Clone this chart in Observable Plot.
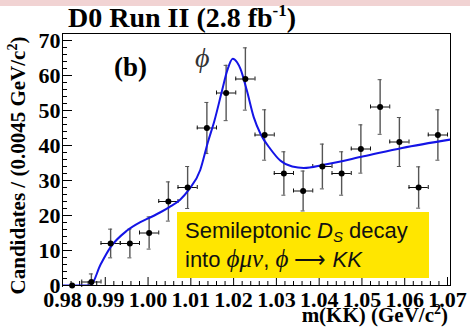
<!DOCTYPE html>
<html><head><meta charset="utf-8">
<script src="https://cdn.jsdelivr.net/npm/d3@7"></script>
<script src="https://cdn.jsdelivr.net/npm/@observablehq/plot@0.6"></script>
<style>
html,body{margin:0;padding:0;}
body{width:470px;height:328px;overflow:hidden;background:linear-gradient(#f1d3d3 0,#f1d3d3 6px,#fff 6px);}
#chart svg{display:block;background:transparent;}
#chart svg g[aria-label="x-axis tick label"],
#chart svg g[aria-label="y-axis tick label"],
#chart svg g[aria-label="x-axis tick label"] text,
#chart svg g[aria-label="y-axis tick label"] text{
  font-family:'Liberation Serif','Times New Roman',serif !important;
  font-weight:bold !important; font-size:22px !important;
}
</style></head><body><div id="chart"></div>
<script>
// bin centres (GeV/c^2), bin width 0.0045
const binCenters = [0.98225,0.98675,0.99125,0.99575,1.00025,1.00475,1.00925,1.01375,1.01825,1.02275,
                    1.02725,1.03175,1.03625,1.04075,1.04525,1.04975,1.05425,1.05875,1.06325,1.06775];
const counts = [0,1,12,12,15,24,28,45,55,59,43,32,27,34,32,39,51,41,28,43];
const errors = [0,2.3,4.1,4.1,4.6,5.6,6,7.3,7.9,8.9,7.2,6.2,5.7,6.4,6.2,6.9,7.8,7,5.9,7.2];
const halfBin = 0.00225;
// fitted curve
const fitX = [0.980,0.9865,0.9889,0.9912,0.9951,0.9982,1.0006,1.0030,1.0050,1.0075,1.0095,1.0122,1.0140,1.0155,
              1.0173,1.0185,1.0198,1.0208,1.0216,1.0231,1.0247,1.0263,1.0286,1.0309,1.0337,1.0364,1.0411,1.0504,1.0594,1.0707];
const fitY = [0,0,6,10.9,15.7,18.1,19.5,21,22.4,24.5,27.3,33,41,47,55.7,61.4,64.8,63.8,61.9,55.7,48.1,43.3,39,35.7,34,33.6,34.5,36.9,39.3,41.7];
const xTicks = [0.98,0.99,1.00,1.01,1.02,1.03,1.04,1.05,1.06,1.07];
const yTicks = [0,10,20,30,40,50,60,70];
const xDomain = [0.98, 1.0707];
const yDomain = [0, 72];

const W = 470, H = 328, mL = 62, mR = 20, mT = 33, mB = 43;
const frameW = W - mL - mR, frameH = H - mT - mB;

const xMinor = d3.range(0, 46).map(i => 0.98 + i * 0.002).filter(v => Math.abs(v * 100 - Math.round(v * 100)) > 1e-6);
const yMinor = d3.range(0, 37).map(i => i * 2).filter(v => v % 10 !== 0);

const pts = binCenters.map((x, i) => ({
  x, y: counts[i], lo: Math.max(0, counts[i] - errors[i]), hi: counts[i] + errors[i],
  xl: x - halfBin, xr: x + halfBin, e: errors[i]
}));
const errPts = pts.filter(d => d.e > 0);
const fit = fitX.map((x, i) => ({x, y: fitY[i]}));

const serif = "'Liberation Serif','Times New Roman','DejaVu Serif',serif";
const sans = "'Liberation Sans',Arial,Helvetica,sans-serif";

const plot = Plot.plot({
  width: W, height: H, marginLeft: mL, marginRight: mR, marginTop: mT, marginBottom: mB,
  x: {domain: xDomain},
  y: {domain: yDomain},
  style: {fontFamily: serif, fontSize: "22px", fontWeight: "bold", background: "transparent", overflow: "visible", color: "black"},
  marks: [
    Plot.axisX({ticks: xTicks, tickSize: 0, tickPadding: 6, tickFormat: d3.format(".2f"),
                fontSize: 22, fontWeight: "bold", label: null}),
    Plot.axisY({ticks: yTicks, tickSize: 0, tickPadding: 2, fontSize: 22, fontWeight: "bold", label: null}),
    Plot.tickX(xTicks, {x: d => d, insetTop: frameH - 8, stroke: "black"}),
    Plot.tickX(xMinor, {x: d => d, insetTop: frameH - 4, stroke: "black"}),
    Plot.tickY(yTicks, {y: d => d, insetRight: frameW - 10, stroke: "black"}),
    Plot.tickY(yMinor, {y: d => d, insetRight: frameW - 5, stroke: "black"}),
    // error bars
    Plot.ruleX(errPts, {x: "x", y1: "lo", y2: "hi", stroke: "#555", strokeWidth: 1.4}),
    Plot.ruleY(errPts, {y: "hi", x1: "x", x2: "x", insetLeft: -2, insetRight: -2, stroke: "#555", strokeWidth: 1}),
    Plot.ruleY(errPts.filter(d => d.lo > 0), {y: "lo", x1: "x", x2: "x", insetLeft: -2, insetRight: -2, stroke: "#555", strokeWidth: 1}),
    Plot.ruleY(pts, {y: "y", x1: "xl", x2: "xr", stroke: "#111", strokeWidth: 1}),
    Plot.ruleX(pts, {x: "xl", y1: "y", y2: "y", insetTop: -2, insetBottom: -2, stroke: "#111", strokeWidth: 1}),
    Plot.ruleX(pts, {x: "xr", y1: "y", y2: "y", insetTop: -2, insetBottom: -2, stroke: "#111", strokeWidth: 1}),
    Plot.line(fit, {x: "x", y: "y", curve: "monotone-x", stroke: "#1414e6", strokeWidth: 2, clip: true}),
    Plot.dot(pts, {x: "x", y: "y", r: 3, fill: "black", stroke: "none"}),
    Plot.frame({stroke: "black", strokeWidth: 1})
  ]
});
document.getElementById("chart").appendChild(plot);

const svg = d3.select(plot);

// title
const title = svg.append("text").attr("x", 68).attr("y", 27).attr("text-anchor", "start")
  .attr("font-family", serif).attr("font-weight", "bold").attr("font-size", 28).attr("fill", "black");
title.append("tspan").text("D0 Run II (2.8 fb");
title.append("tspan").attr("font-size", 17).attr("dy", -11).text("-1");
title.append("tspan").attr("dy", 11).text(")");

// y label
const yl = svg.append("text").attr("transform", "translate(25,165.5) rotate(-90)").attr("text-anchor", "middle")
  .attr("font-family", serif).attr("font-weight", "bold").attr("font-size", 21).attr("fill", "black");
yl.append("tspan").text("Candidates / (0.0045 GeV/c");
yl.append("tspan").attr("font-size", 14).attr("dy", -8).text("2");
yl.append("tspan").attr("dy", 8).text(")");

// x label
const xl = svg.append("text").attr("x", 448).attr("y", 322).attr("text-anchor", "end")
  .attr("font-family", serif).attr("font-weight", "bold").attr("font-size", 21).attr("fill", "black");
xl.append("tspan").text("m(KK) (GeV/c");
xl.append("tspan").attr("font-size", 14).attr("dy", -8).text("2");
xl.append("tspan").attr("dy", 8).text(")");

// (b) and phi labels
svg.append("text").attr("x", 114).attr("y", 76).attr("text-anchor", "start").attr("font-family", serif).attr("font-weight", "bold")
  .attr("font-size", 27).attr("fill", "black").text("(b)");
svg.append("text").attr("x", 195).attr("y", 67).attr("text-anchor", "start").attr("font-family", serif).attr("font-style", "italic")
  .attr("font-weight", "normal").attr("font-size", 28).attr("fill", "#333").text("ϕ");

// legend box
const g = svg.append("g").attr("font-weight", "normal");
g.append("rect").attr("x", 177).attr("y", 212).attr("width", 252).attr("height", 66).attr("fill", "#ffe600");
const t1 = g.append("text").attr("x", 185).attr("y", 238).attr("text-anchor", "start").attr("font-family", sans).attr("font-size", 22).attr("fill", "#111");
t1.append("tspan").text("Semileptonic ");
t1.append("tspan").attr("font-style", "italic").text("D");
t1.append("tspan").attr("font-style", "italic").attr("font-size", 15).attr("dy", 4).text("S");
t1.append("tspan").attr("dy", -4).text(" decay");
const t2 = g.append("text").attr("x", 185).attr("y", 267).attr("text-anchor", "start").attr("font-family", sans).attr("font-size", 22).attr("fill", "#111");
t2.append("tspan").text("into ");
t2.append("tspan").attr("font-family", serif).attr("font-style", "italic").attr("font-size", 25).text("ϕμν");
t2.append("tspan").text(", ");
t2.append("tspan").attr("font-family", serif).attr("font-style", "italic").attr("font-size", 25).text("ϕ");
t2.append("tspan").text(" ⟶ ");
t2.append("tspan").attr("font-style", "italic").text("KK");
</script></body></html>
